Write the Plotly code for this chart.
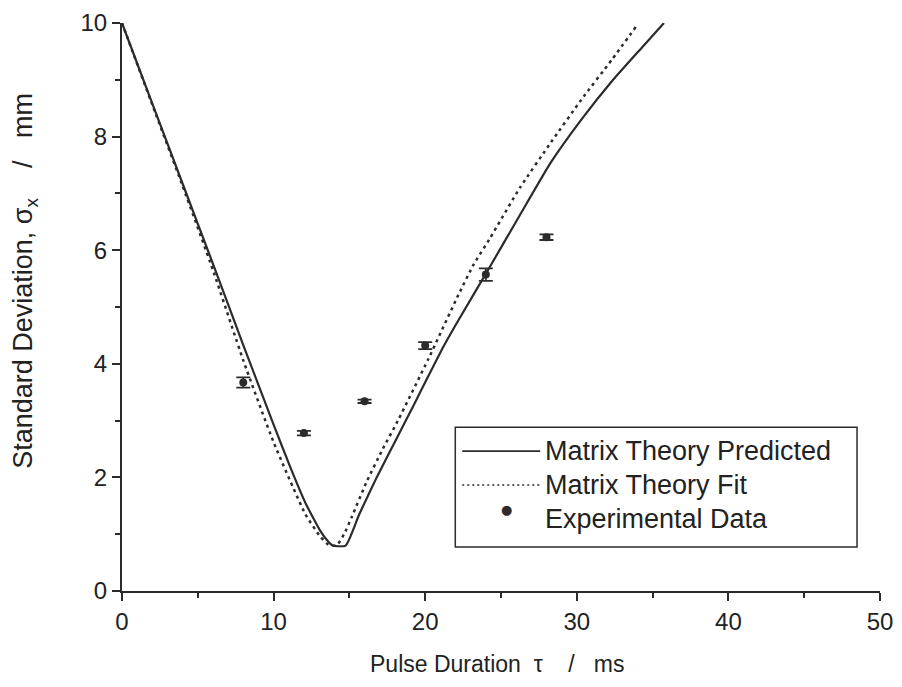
import plotly.graph_objects as go

# Matrix theory predicted (solid line)
pred_t = [0, 2, 4, 6, 8, 10, 11.1, 12.1, 13.1, 13.6, 13.9, 14.75, 15.65, 16.8, 18.2, 19.2, 20.2, 21.2, 22.2, 24.25, 26.25, 28.3, 30.3, 32.3, 34.3, 35.75]
pred_sigma = [10, 8.58, 7.17, 5.76, 4.33, 2.93, 2.18, 1.55, 1.05, 0.87, 0.8, 0.8, 1.35, 2.0, 2.73, 3.25, 3.78, 4.3, 4.77, 5.7, 6.62, 7.55, 8.3, 8.97, 9.57, 10.0]

# Matrix theory fit (dotted line)
fit_t = [0, 2, 4, 6, 8, 10, 12.1, 13.1, 13.6, 14.15, 14.65, 15.15, 16.15, 17.2, 18.2, 20.2, 22.2, 23.2, 24.25, 26.25, 28.3, 30.3, 32.3, 34.0]
fit_sigma = [10, 8.56, 7.13, 5.65, 4.06, 2.62, 1.35, 0.95, 0.82, 0.8, 1.0, 1.3, 1.93, 2.5, 3.0, 4.08, 5.22, 5.75, 6.2, 7.1, 7.9, 8.65, 9.35, 9.97]

# Experimental data with error bars
exp_t = [8, 12, 16, 20, 24, 28]
exp_sigma = [3.67, 2.78, 3.34, 4.32, 5.57, 6.23]
exp_err = [0.09, 0.04, 0.03, 0.06, 0.11, 0.05]

legend_labels = ['Matrix Theory Predicted', 'Matrix Theory Fit', 'Experimental Data']

ink = '#2b2b2b'
text_col = '#222'

fig = go.Figure()
fig.add_trace(go.Scatter(x=pred_t, y=pred_sigma, mode='lines', name=legend_labels[0],
                         line=dict(color=ink, width=2.2, shape='spline', smoothing=0.5)))
fig.add_trace(go.Scatter(x=fit_t, y=fit_sigma, mode='lines', name=legend_labels[1],
                         line=dict(color=ink, width=2.5, dash='3px,4px', shape='spline', smoothing=0.5)))
fig.add_trace(go.Scatter(x=exp_t, y=exp_sigma, mode='markers', name=legend_labels[2],
                         marker=dict(color=ink, size=8),
                         error_y=dict(type='data', array=exp_err, visible=True,
                                      color=ink, thickness=1.8, width=7)))

# hand-drawn legend box (long line samples like the original)
box_x0, box_x1, box_y0, box_y1 = 0.4397, 0.9697, 0.0774, 0.2885
row_y = [0.2463, 0.1865, 0.1266]
sample_x0, sample_x1, dot_x, text_x = 0.4489, 0.5517, 0.5069, 0.5557
fig.add_shape(type='rect', xref='paper', yref='paper', x0=box_x0, x1=box_x1, y0=box_y0, y1=box_y1,
              line=dict(color=ink, width=1.5), fillcolor='white', layer='above')
fig.add_shape(type='line', xref='paper', yref='paper', x0=sample_x0, x1=sample_x1, y0=row_y[0], y1=row_y[0],
              line=dict(color=ink, width=1.6))
fig.add_shape(type='line', xref='paper', yref='paper', x0=sample_x0, x1=sample_x1, y0=row_y[1], y1=row_y[1],
              line=dict(color=ink, width=1.6, dash='2px,3px'))
fig.add_annotation(xref='paper', yref='paper', x=dot_x, y=row_y[2], text='●', showarrow=False,
                   font=dict(size=13, color=ink, family='DejaVu Sans'))
for lbl, yy in zip(legend_labels, row_y):
    fig.add_annotation(xref='paper', yref='paper', x=text_x, y=yy, text=lbl, showarrow=False,
                       xanchor='left', yanchor='middle',
                       font=dict(size=27, color=text_col, family='Liberation Sans, Arial'))

# axis titles
fig.add_annotation(xref='paper', yref='paper', x=0.4951, y=-0.128, text='Pulse Duration  τ    /   ms',
                   showarrow=False, xanchor='center', yanchor='middle',
                   font=dict(size=23, color=text_col))
fig.add_annotation(xref='paper', yref='paper', x=-0.1272, y=0.5453,
                   text='Standard Deviation, σ<sub>x</sub>    /   mm', textangle=-90,
                   showarrow=False, xanchor='center', yanchor='middle',
                   font=dict(size=27, color=text_col))

fig.update_layout(
    width=902, height=687,
    plot_bgcolor='white', paper_bgcolor='white',
    margin=dict(l=113.5, r=30, t=14.5, b=104),
    font=dict(family='Liberation Sans, Arial', size=24, color=text_col),
    showlegend=False,
    xaxis=dict(
        range=[0, 50], dtick=10, showgrid=False, zeroline=False, automargin=False,
        showline=True, linecolor=ink, linewidth=2,
        ticks='outside', ticklen=8, tickwidth=2, tickcolor=ink,
        tickfont=dict(size=24),
        minor=dict(ticks='outside', ticklen=5, tickwidth=2, tickcolor=ink, dtick=5, showgrid=False),
    ),
    yaxis=dict(
        range=[0, 10], dtick=2, showgrid=False, zeroline=False, automargin=False,
        showline=True, linecolor=ink, linewidth=2,
        ticks='outside', ticklen=8, tickwidth=2, tickcolor=ink,
        tickfont=dict(size=24),
        minor=dict(ticks='outside', ticklen=5, tickwidth=2, tickcolor=ink, dtick=1, showgrid=False),
    ),
)

fig.write_html('out.html')
